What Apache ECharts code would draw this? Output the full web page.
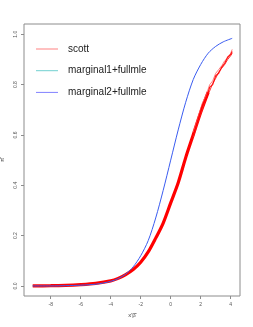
<!DOCTYPE html>
<html><head><meta charset="utf-8">
<script src="https://cdn.jsdelivr.net/npm/echarts@6/dist/echarts.min.js"></script>
<style>html,body{margin:0;padding:0;background:#fff}#c{width:253px;height:327px}</style>
</head><body><div id="c"></div>
<script>
// x positions (x'beta-hat)
const xs = [-9.2,-8,-7,-6,-5,-4,-3.5,-3,-2.5,-2,-1.5,-1,-0.5,0,0.5,1,1.5,2,2.5,3,3.5,4.1];
// fitted probabilities
const scott = [0.000,0.001,0.002,0.005,0.010,0.020,0.030,0.045,0.065,0.094,0.135,0.19,0.25,0.33,0.41,0.51,0.60,0.69,0.77];
const marginal1 = [0.000,0.001,0.002,0.005,0.010,0.020,0.030,0.045,0.065,0.094,0.135,0.19,0.25,0.33,0.41,0.51,0.60,0.69,0.77];
const marginal2 = [0.000,0.000,0.001,0.003,0.007,0.018,0.029,0.047,0.076,0.12,0.18,0.27,0.38,0.50,0.62,0.73,0.82,0.88,0.925,0.952,0.970,0.984];
// noisy upper tail of the scott band
const noiseX = [1.5,1.8,2.1,2.4,2.6,2.8,3.0,3.2,3.4,3.6,3.8,4.0,4.1];
const noiseA = [0.61,0.665,0.725,0.765,0.80,0.815,0.845,0.86,0.875,0.895,0.905,0.925,0.94];
const noiseB = [0.59,0.65,0.70,0.755,0.775,0.805,0.825,0.85,0.865,0.88,0.90,0.915,0.925];
const noiseC = [0.60,0.655,0.715,0.75,0.79,0.80,0.835,0.845,0.87,0.885,0.91,0.92,0.932];
const xTicks = [-8,-6,-4,-2,0,2,4];
const yTicks = [0,0.2,0.4,0.6,0.8,1.0];
const legendNames = ['scott','marginal1+fullmle','marginal2+fullmle'];

const pair = (a,b)=>a.map((v,i)=>[v,b[i]]);
const chart = echarts.init(document.getElementById('c'));
const tickFont = {fontSize:5, color:'#555', fontFamily:'Liberation Sans, Arial'};
chart.setOption({
  animation:false,
  grid:{left:24,right:13,top:24,bottom:31,show:true,borderColor:'#8c8c8c',borderWidth:1,backgroundColor:'transparent',outerBoundsMode:'none',containLabel:false},
  legend:{
    orient:'vertical',left:31,top:38,itemGap:9.7,itemWidth:22,itemHeight:12,
    icon:'path://M0,5.5L22,5.5L22,6.5L0,6.5Z',
    textStyle:{fontSize:10,color:'#222',fontFamily:'Liberation Sans, Arial',padding:[0,0,0,5],lineHeight:12},
    data:[
      {name:legendNames[0],itemStyle:{color:'#ff8080'}},
      {name:legendNames[1],itemStyle:{color:'#70d0d0'}},
      {name:legendNames[2],itemStyle:{color:'#8080ff'}}
    ]
  },
  xAxis:{type:'value',min:-9.78,max:4.62,
    name:"x'\u03B2\u0302",nameLocation:'middle',nameGap:16,nameTextStyle:{fontSize:6,color:'#444',fontFamily:'Liberation Sans, Arial'},
    axisLine:{show:false,onZero:false},splitLine:{show:false},
    axisTick:{show:true,length:3,lineStyle:{color:'#8c8c8c'},customValues:xTicks},
    axisLabel:Object.assign({customValues:xTicks,margin:6},tickFont)
  },
  yAxis:{type:'value',min:-0.04,max:1.041,
    name:'\u03C0\u0302',nameLocation:'middle',nameGap:19,nameRotate:90,nameTextStyle:{fontSize:6,color:'#444'},
    axisLine:{show:false,onZero:false},splitLine:{show:false},
    axisTick:{show:true,length:3,lineStyle:{color:'#8c8c8c'},customValues:yTicks},
    axisLabel:Object.assign({customValues:yTicks,rotate:90,margin:6,formatter:v=>v.toFixed(1)},tickFont)
  },
  series:[
    {name:legendNames[1],type:'line',data:pair(xs,marginal1),showSymbol:false,smooth:0.3,lineStyle:{width:1,color:'#00cdcd'},itemStyle:{color:'#70d0d0'}},
    {name:legendNames[0],type:'line',data:pair(xs,scott),showSymbol:false,smooth:0.3,lineStyle:{width:3.2,color:'#ff0000'},itemStyle:{color:'#ff8080'}},
    {name:legendNames[0],type:'line',data:pair(noiseX,noiseA),showSymbol:false,lineStyle:{width:1,color:'#ff6060',opacity:0.8}},
    {name:legendNames[0],type:'line',data:pair(noiseX,noiseB),showSymbol:false,lineStyle:{width:1,color:'#ff2020',opacity:0.9}},
    {name:legendNames[0],type:'line',data:pair(noiseX,noiseC),showSymbol:false,lineStyle:{width:1.2,color:'#ff0000',opacity:0.9}},
    {name:legendNames[2],type:'line',data:pair(xs,marginal2),showSymbol:false,smooth:0.3,lineStyle:{width:1,color:'#3a5cf0'},itemStyle:{color:'#8080ff'}}
  ]
});
</script></body></html>
